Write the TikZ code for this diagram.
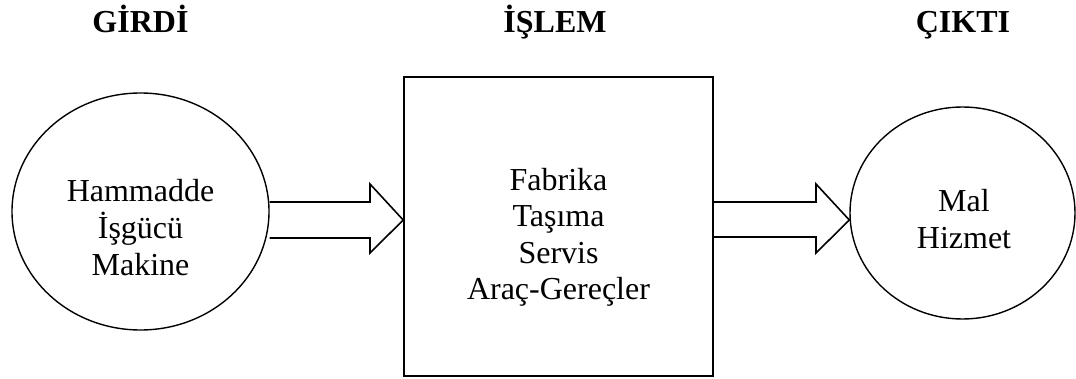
\documentclass[tikz,border=0pt]{standalone}
\usepackage{fontspec}
\setmainfont{Liberation Serif}
\usetikzlibrary{shapes.geometric}
\begin{document}
\begin{tikzpicture}[x=1pt,y=-1pt,
  txt/.style={font=\fontsize{32}{36.6}\selectfont, align=center, inner sep=0pt},
  title/.style={font=\fontsize{32}{36}\selectfont\bfseries, inner sep=0pt, anchor=base},
  blob/.style={draw, ellipse, line width=1.4pt, inner sep=0pt},
  stage/.style={draw, rectangle, line width=1.6pt, inner sep=0pt},
  blockarrow/.style={draw, line width=1.6pt, line join=miter}]
  \useasboundingbox (0,0) rectangle (1076,379);

  % headings
  \node[title] (tin)  at (140.5,33) {GİRDİ};
  \node[title] (tpr)  at (555,33)   {İŞLEM};
  \node[title] (tout) at (963,33)   {ÇIKTI};

  % input, process, output
  \node[blob, minimum width=257pt, minimum height=237pt] (in) at (140.5,211.5) {};
  \node[txt] (intext) at (140.5,227.6) {Hammadde\\İşgücü\\Makine};

  \node[stage, minimum width=309pt, minimum height=299pt] (box) at (558.5,226.5) {};
  \node[txt] (boxtext) at (558.5,237.3) {Fabrika\\Taşıma\\Servis\\Araç-Gereçler};

  \node[blob, minimum width=225pt, minimum height=212pt] (out) at (962.5,213) {};
  \node[txt] (outtext) at (964,219) {Mal\\Hizmet};

  % block arrows
  \coordinate (a1s) at (in.east |- 0,202);
  \coordinate (a1e) at (in.east |- 0,238);
  \coordinate (a1t) at (box.west |- 0,220);
  \draw[blockarrow] (a1s) -- (370,202) -- (370,184) -- (a1t)
    -- (370,253) -- (370,238) -- (a1e);

  \coordinate (a2s) at (box.east |- 0,202);
  \coordinate (a2e) at (box.east |- 0,237);
  \coordinate (a2t) at (out.west |- 0,220);
  \draw[blockarrow] (a2s) -- (816,202) -- (816,184) -- (a2t)
    -- (816,253) -- (816,237) -- (a2e);
\end{tikzpicture}
\end{document}
